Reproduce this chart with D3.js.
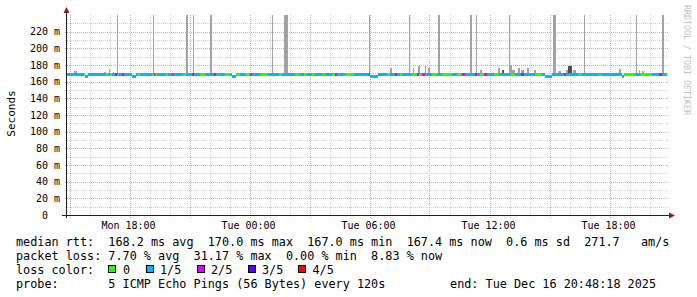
<!DOCTYPE html>
<html><head><meta charset="utf-8">
<script src="https://cdn.jsdelivr.net/npm/d3@7"></script>
<style>html,body{margin:0;padding:0;background:#fff;}svg{display:block}</style>
</head><body>
<svg id="c" width="697" height="297"></svg>
<script>
// ---------------- data ----------------
const chartStart = new Date(2025, 11, 15, 14, 52, 30);
const chartEnd   = new Date(2025, 11, 16, 20, 52, 30);
const yTickValues = [0, 0.02, 0.04, 0.06, 0.08, 0.10, 0.12, 0.14, 0.16, 0.18, 0.20, 0.22];
const yTickLabels = ["0", "20 m", "40 m", "60 m", "80 m", "100 m", "120 m", "140 m", "160 m", "180 m", "200 m", "220 m"];
const xTickTimes  = [new Date(2025,11,15,18), new Date(2025,11,16,0), new Date(2025,11,16,6), new Date(2025,11,16,12), new Date(2025,11,16,18)];
const xTickLabels = ["Mon 18:00", "Tue 00:00", "Tue 06:00", "Tue 12:00", "Tue 18:00"];

// loss colouring of median line: start (minutes after chart start) and lost pings
const lossStartMin = [0,51,54,117,123,129,135,144,150,165,171,213,219,255,261,264,267,270,297,303,315,318,348,357,375,381,399,414,441,447,453,456,474,489,507,519,534,549,555,579,603,636,645,684,699,711,720,735,744,765,774,795,804,810,834,861,906,909,960,969,984,990,999,1005,1035,1050,1056,1065,1074,1095,1110,1125,1155,1170,1185,1194,1224,1230,1239,1251,1260,1281,1296,1329,1344,1362,1371,1404,1425,1491,1497,1536,1545,1596,1602,1671,1704,1719,1755,1776,1785];
const lossLevel    = [1,0,1,0,1,0,1,2,1,2,1,0,1,0,2,1,0,1,0,1,2,1,0,1,2,1,0,1,2,1,0,1,0,1,0,1,0,2,1,0,1,0,1,0,1,0,1,0,1,0,1,0,2,1,0,1,2,1,0,1,2,1,0,1,0,2,0,2,1,0,1,0,1,0,2,1,2,1,0,2,1,0,1,0,1,2,1,0,1,2,1,0,1,0,1,0,1,0,1,2,1];

// median rtt (ms): value changes at given minute
const medianStartMin = [0,54,63,195,207,495,507,909,933,1434,1455,1665,1671];
const medianMs       = [168.2,166.8,168.2,166.8,168.2,166.8,168.2,166.8,168.2,166.8,168.2,166.8,168.2];

// smoke: start (min after chart start), duration (min), highest ping (ms)
const smokeStartMin = [150,258,357,378,429,615,651,906,1026,1113,1209,1227,1326,1458,1551,1707,1785,
  21,30,39,105,111,117,126,138,180,261,279,333,591,639,819,873,969,1038,1053,1065,1074,1083,1125,1239,1293,1305,1329,1335,1353,1362,1380,1401,1473,1497,1503,1518,1656,1674,1716,1725,1770];
const smokeDurMin   = [3,3,6,3,6,3,12,3,3,6,6,3,3,9,3,3,6,
  9,6,6,6,6,6,3,3,6,6,3,6,6,3,3,6,6,3,6,6,3,6,6,6,6,6,6,9,6,9,6,6,9,6,12,9,6,21,3,6,3];
const smokeTopMs    = [241,241,241,241,241,241,241,241,241,241,241,241,241,241,241,241,241,
  173,171,170,171,172,171,175,172,170,171,171,170,170,171,171,171,177,176,179,171,179,177,171,174,176,174,180,174,176,174,177,174,173,174,179,174,175,171,174,173,171];
// second-highest ping (darker smoke)
const innerStartMin = [1305,1503];
const innerDurMin   = [6,12];
const innerTopMs    = [174,179];

const lossLabels = ["0", "1/5", "2/5", "3/5", "4/5"];
const lossColors = ["#26ff00", "#00b8ff", "#dd00ff", "#5e00ff", "#ff0000"];

// ---------------- drawing ----------------
const svg = d3.select("#c");
const L = 67, R = 667, T = 15, B = 215;
const x = d3.scaleTime().domain([chartStart, chartEnd]).range([L, R]);
const y = d3.scaleLinear().domain([0, 0.24]).range([B, T]);
const mt = m => new Date(chartStart.getTime() + m * 60000);
const mono = "DejaVu Sans Mono, monospace";
const stepOf = (starts, m) => d3.bisectRight(starts, m) - 1;
const medAt = m => medianMs[stepOf(medianStartMin, m)];

// grid
const g = svg.append("g").attr("shape-rendering", "crispEdges");
const hours = d3.timeHour.range(chartStart, chartEnd);
g.selectAll(".vg").data(hours).join("line")
  .attr("x1", d => Math.round(x(d)) + 0.5).attr("x2", d => Math.round(x(d)) + 0.5)
  .attr("y1", T).attr("y2", B + 3)
  .attr("stroke", d => d.getHours() % 3 === 0 ? "#e8a0a0" : "#d0d0d0")
  .attr("stroke-dasharray", "1,1");
const yMinor = d3.range(0.01, 0.24, 0.02);
g.selectAll(".hm").data(yMinor).join("line")
  .attr("x1", L - 2).attr("x2", R + 2)
  .attr("y1", d => Math.round(y(d)) + 0.5).attr("y2", d => Math.round(y(d)) + 0.5)
  .attr("stroke", "#d0d0d0").attr("stroke-dasharray", "1,1");
g.selectAll(".hM").data(yTickValues.slice(1)).join("line")
  .attr("x1", L - 2).attr("x2", R + 2)
  .attr("y1", d => Math.round(y(d)) + 0.5).attr("y2", d => Math.round(y(d)) + 0.5)
  .attr("stroke", "#e8a0a0").attr("stroke-dasharray", "1,1");

// smoke
const plot = svg.append("g").attr("shape-rendering", "crispEdges");
const clipTop = v => Math.min(v, 0.24);
plot.selectAll(".sm").data(smokeStartMin).join("rect")
  .attr("x", d => x(mt(d)))
  .attr("width", (d, i) => x(mt(d + smokeDurMin[i])) - x(mt(d)))
  .attr("y", (d, i) => y(clipTop(smokeTopMs[i] / 1000)))
  .attr("height", (d, i) => y(medAt(d) / 1000) - y(clipTop(smokeTopMs[i] / 1000)))
  .attr("fill", "#a2a2a2");
plot.selectAll(".si").data(innerStartMin).join("rect")
  .attr("x", d => x(mt(d)))
  .attr("width", (d, i) => x(mt(d + innerDurMin[i])) - x(mt(d)))
  .attr("y", (d, i) => y(innerTopMs[i] / 1000))
  .attr("height", (d, i) => y(medAt(d) / 1000) - y(innerTopMs[i] / 1000))
  .attr("fill", "#505050");

// median line coloured by loss: split at every change of loss or median
const cuts = Array.from(new Set(lossStartMin.concat(medianStartMin))).sort((a, b) => a - b);
plot.selectAll(".md").data(cuts).join("rect")
  .attr("x", d => x(mt(d)))
  .attr("width", (d, i) => x(mt(i + 1 < cuts.length ? cuts[i + 1] : 1800)) - x(mt(d)))
  .attr("y", d => y(medAt(d) / 1000) - 1.5)
  .attr("height", 3)
  .attr("fill", d => lossColors[lossLevel[stepOf(lossStartMin, d)]]);

// axes
const ax = svg.append("g").attr("shape-rendering", "crispEdges");
ax.append("line").attr("x1", L - 0.5).attr("x2", L - 0.5).attr("y1", 10).attr("y2", B + 3).attr("stroke", "#202020");
ax.append("line").attr("x1", L - 5).attr("x2", R + 3).attr("y1", B + 0.5).attr("y2", B + 0.5).attr("stroke", "#202020");
svg.append("path").attr("d", `M${L - 3.5},${T - 2} L${L - 0.5},${T - 8} L${L + 2.5},${T - 2} Z`).attr("fill", "#8b1a1a");
svg.append("path").attr("d", `M${R + 2},${B - 2.5} L${R + 8},${B + 0.5} L${R + 2},${B + 3.5} Z`).attr("fill", "#8b1a1a");

// y tick labels
svg.selectAll(".yl").data(yTickValues).join("text")
  .attr("x", (d, i) => i === 0 ? 48 : 60)
  .attr("y", d => y(d) + 3.8)
  .attr("text-anchor", "end")
  .attr("font-family", mono).attr("font-size", "10px").attr("fill", "#000")
  .text((d, i) => yTickLabels[i]);
// x tick labels
svg.selectAll(".xl").data(xTickTimes).join("text")
  .attr("x", d => x(d) - 1)
  .attr("y", 229)
  .attr("text-anchor", "middle")
  .attr("font-family", mono).attr("font-size", "10px").attr("fill", "#000")
  .text((d, i) => xTickLabels[i]);

// axis title
svg.append("text").attr("transform", "translate(15.3,113.5) rotate(-90)")
  .attr("text-anchor", "middle").attr("font-family", mono).attr("font-size", "11px").attr("fill", "#000")
  .text("Seconds");
svg.append("text").attr("transform", "translate(684,5) rotate(90)")
  .attr("text-anchor", "start").attr("font-family", mono).attr("font-size", "8.3px").attr("fill", "#c0c0c0")
  .text("RRDTOOL / TOBI OETIKER");

// legend
const legendLines = [
  "median rtt:  168.2 ms avg  170.0 ms max  167.0 ms min  167.4 ms now  0.6 ms sd  271.7   am/s",
  "packet loss: 7.70 % avg  31.17 % max  0.00 % min  8.83 % now",
  "loss color:",
  "probe:       5 ICMP Echo Pings (56 Bytes) every 120s"
];
svg.selectAll(".lg").data(legendLines).join("text")
  .attr("x", 16).attr("y", (d, i) => 246 + i * 14)
  .attr("font-family", mono).attr("font-size", "11.8px").attr("fill", "#000")
  .style("white-space", "pre")
  .text(d => d);
svg.append("text").attr("x", 656).attr("y", 288).attr("text-anchor", "end")
  .attr("font-family", mono).attr("font-size", "11.8px").attr("fill", "#000")
  .style("white-space", "pre").text("end: Tue Dec 16 20:48:18 2025");
const boxX = [108, 145.5, 196.5, 247.5, 298];
const lblX = [123, 160, 211, 262, 312.5];
svg.selectAll(".lb").data(lossColors).join("rect")
  .attr("x", (d, i) => boxX[i] + 0.5).attr("y", 265.5).attr("width", 7).attr("height", 7)
  .attr("fill", d => d).attr("stroke", "#000").attr("stroke-width", 1)
  .attr("shape-rendering", "crispEdges");
svg.selectAll(".lt").data(lossLabels).join("text")
  .attr("x", (d, i) => lblX[i]).attr("y", 274)
  .attr("font-family", mono).attr("font-size", "11.8px").attr("fill", "#000")
  .text(d => d);
</script>
</body></html>
